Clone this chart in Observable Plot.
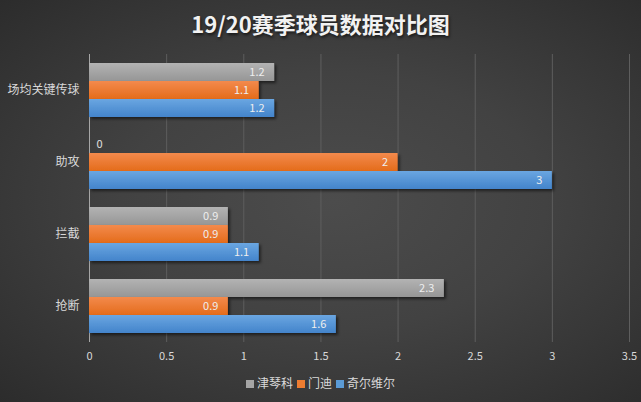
<!DOCTYPE html>
<html>
<head>
<meta charset="utf-8">
<script src="https://cdn.jsdelivr.net/npm/d3@7"></script>
<script src="https://cdn.jsdelivr.net/npm/@observablehq/plot@0.6"></script>
<style>
  html, body { margin: 0; padding: 0; }
  body { width: 641px; height: 402px; overflow: hidden; }
  #chart {
    position: relative; width: 641px; height: 402px;
    background: radial-gradient(ellipse at 52% 50%, #4c4c4c 0%, #424242 45%, #2c2c2c 100%);
    font-family: "Noto Sans CJK SC", "Noto Sans", sans-serif;
  }
  #title {
    position: absolute; left: 0; top: 6px; width: 641px; height: 34px;
    text-align: center; color: #f2f2f2; font-size: 22px; font-weight: bold;
    line-height: 34px; text-shadow: 1px 2px 3px rgba(0,0,0,0.6);
  }
  #plot { position: absolute; left: 0; top: 40px; }
  #legend {
    position: absolute; left: 0; top: 374px; width: 641px; text-align: center;
    color: #d9d9d9; font-size: 12px; line-height: 18px;
  }
  #legend span.item { margin: 0 2px; }
  #legend span.sw { display: inline-block; width: 8px; height: 8px; margin-right: 3px; vertical-align: 0px; }
</style>
</head>
<body>
<svg width="0" height="0" style="position:absolute">
  <defs>
    <linearGradient id="gGray" x1="0" y1="0" x2="0" y2="1">
      <stop offset="0" stop-color="#b3b3b3"/><stop offset="1" stop-color="#969696"/>
    </linearGradient>
    <linearGradient id="gOrange" x1="0" y1="0" x2="0" y2="1">
      <stop offset="0" stop-color="#f38a4c"/><stop offset="1" stop-color="#e46c1b"/>
    </linearGradient>
    <linearGradient id="gBlue" x1="0" y1="0" x2="0" y2="1">
      <stop offset="0" stop-color="#6aa6e1"/><stop offset="1" stop-color="#4384cb"/>
    </linearGradient>
    <filter id="shadow" x="-5%" y="-30%" width="110%" height="180%">
      <feDropShadow dx="2" dy="2" stdDeviation="1.5" flood-color="#000" flood-opacity="0.55"/>
    </filter>
  </defs>
</svg>
<div id="chart">
  <div id="title">19/20赛季球员数据对比图</div>
  <div id="plot"></div>
  <div id="legend"></div>
</div>
<script>
const categories = ["场均关键传球", "助攻", "拦截", "抢断"];
const players = ["津琴科", "门迪", "奇尔维尔"];
const zinchenko = [1.2, 0, 0.9, 2.3];
const mendy = [1.1, 2, 0.9, 0.9];
const chilwell = [1.2, 3, 1.1, 1.6];
const xTicks = [0, 0.5, 1, 1.5, 2, 2.5, 3, 3.5];

const playerFills = ["url(#gGray)", "url(#gOrange)", "url(#gBlue)"];
const swatchColors = ["#a5a5a5", "#ed7d31", "#5b9bd5"];

const seriesValues = [zinchenko, mendy, chilwell];
const rows = [];
categories.forEach((c, i) => {
  players.forEach((p, j) => {
    rows.push({category: c, player: p, value: seriesValues[j][i]});
  });
});

const chart = Plot.plot({
  width: 641,
  height: 330,
  marginLeft: 89,
  marginRight: 12,
  marginTop: 14,
  marginBottom: 28,
  style: {background: "transparent", color: "#d9d9d9", fontFamily: "'Noto Sans CJK SC', 'Noto Sans', sans-serif", fontSize: "11px"},
  x: {domain: [0, 3.5], ticks: xTicks, tickFormat: d => String(d), tickSize: 0, tickPadding: 19, label: null},
  fy: {domain: categories, paddingInner: 0.25, paddingOuter: 0.125, label: null, axis: "left", tickSize: 0, tickPadding: 10},
  y: {domain: players, padding: 0, axis: null},
  color: {domain: players, range: playerFills},
  marks: [
    Plot.ruleX(xTicks.filter(d => d > 0), {x: d => d, stroke: "#5e5e5e", strokeWidth: 1, insetTop: -9, insetBottom: -9}),
    Plot.ruleX([0], {x: d => d, stroke: "#a6a6a6", strokeWidth: 1, insetTop: -9, insetBottom: -9}),
    Plot.barX(rows.filter(d => d.value > 0), {x: "value", y: "player", fy: "category", fill: "player"}),
    Plot.text(rows.filter(d => d.value > 0), {x: "value", y: "player", fy: "category", text: d => String(d.value), textAnchor: "end", dx: -10, fill: "#eeeeee", fontSize: 11}),
    Plot.text(rows.filter(d => d.value === 0), {x: "value", y: "player", fy: "category", text: d => String(d.value), textAnchor: "start", dx: 7, fill: "#e0e0e0", fontSize: 11})
  ]
});

d3.select(chart).selectAll("g[aria-label='bar'] rect").attr("filter", "url(#shadow)");
d3.select(chart).selectAll("g[aria-label='fy-axis tick label'] text, g[aria-label='fy-axis'] text").style("font-size", "12px");
document.getElementById("plot").appendChild(chart);

const legend = document.getElementById("legend");
players.forEach((p, j) => {
  const item = document.createElement("span");
  item.className = "item";
  const sw = document.createElement("span");
  sw.className = "sw";
  sw.style.background = swatchColors[j];
  item.appendChild(sw);
  item.appendChild(document.createTextNode(p));
  legend.appendChild(item);
});
</script>
</body>
</html>
